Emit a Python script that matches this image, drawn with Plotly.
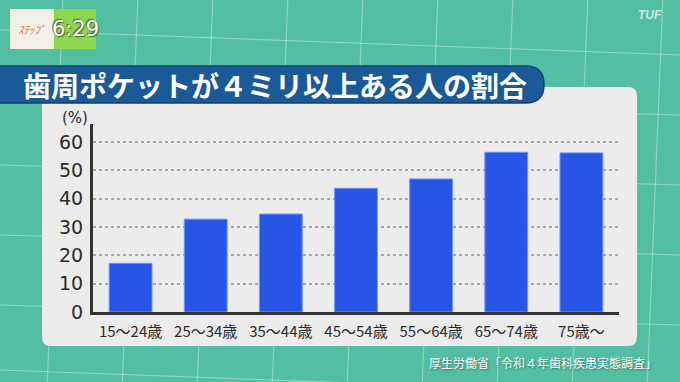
import plotly.graph_objects as go

W, H = 680, 382

categories = ["15～24歳", "25～34歳", "35～44歳", "45～54歳", "55～64歳", "65～74歳", "75歳～"]
values = [17.2, 32.8, 34.6, 43.7, 47.0, 56.4, 56.2]
y_ticks = [0, 10, 20, 30, 40, 50, 60]
title_text = "歯周ポケットが４ミリ以上ある人の割合"
source_text = "厚生労働省「令和４年歯科疾患実態調査」"
unit_text = "(%)"
JP = "Noto Sans CJK JP"


def px(x):
    return x / W


def py(y):
    return 1 - y / H


fig = go.Figure()
fig.add_trace(go.Bar(
    x=categories, y=values,
    marker=dict(color="#2756e6", line=dict(color="#6f93ff", width=1)),
    width=0.57,
    hoverinfo="skip",
))

shapes = []
# decorative background grid lines on teal
for x0 in [-20, 55, 130, 205, 280, 355, 430, 505, 580, 655]:
    shapes.append(dict(type="line", xref="paper", yref="paper",
                       x0=px(x0 + 8), y0=py(-5), x1=px(x0 - 8), y1=py(390),
                       line=dict(color="rgba(255,255,255,0.35)", width=1.2), layer="below"))
for y0, y1 in [(30, 55), (95, 115), (165, 185), (235, 255), (305, 325), (370, 395)]:
    shapes.append(dict(type="line", xref="paper", yref="paper",
                       x0=px(0), y0=py(y0), x1=px(680), y1=py(y1),
                       line=dict(color="rgba(255,255,255,0.35)", width=1.2), layer="below"))


def rounded_rect(x0, y0, x1, y1, r):
    def P(x, y):
        return f"{px(x)},{py(y)}"
    return (f"M {P(x0 + r, y0)} L {P(x1 - r, y0)} Q {P(x1, y0)} {P(x1, y0 + r)} "
            f"L {P(x1, y1 - r)} Q {P(x1, y1)} {P(x1 - r, y1)} L {P(x0 + r, y1)} "
            f"Q {P(x0, y1)} {P(x0, y1 - r)} L {P(x0, y0 + r)} Q {P(x0, y0)} {P(x0 + r, y0)} Z")


def title_bar(x0, y0, x1, y1):
    r = (y1 - y0) / 2
    def P(x, y):
        return f"{px(x)},{py(y)}"
    return (f"M {P(x0, y0)} L {P(x1 - r, y0)} Q {P(x1, y0)} {P(x1, y0 + r)} "
            f"Q {P(x1, y1)} {P(x1 - r, y1)} L {P(x0, y1)} Z")


# white panel
shapes.append(dict(type="path", xref="paper", yref="paper", path=rounded_rect(42, 87, 637, 346, 9),
                   fillcolor="#ececec", line=dict(width=0), layer="below"))
# title bar
shapes.append(dict(type="path", xref="paper", yref="paper", path=title_bar(-2, 66, 544, 103),
                   fillcolor="#1b5a98", line=dict(color="#123f73", width=1.5), layer="below"))
# logo boxes
shapes.append(dict(type="rect", xref="paper", yref="paper", x0=px(10), y0=py(9), x1=px(54), y1=py(49),
                   fillcolor="#f1efe6", line=dict(width=0), layer="below"))
shapes.append(dict(type="rect", xref="paper", yref="paper", x0=px(54), y0=py(9), x1=px(96), y1=py(49),
                   fillcolor="#8dd64e", line=dict(width=0), layer="below"))

annotations = [
    dict(text=title_text, x=px(21), y=py(85), xref="paper", yref="paper", xanchor="left", yanchor="middle",
         showarrow=False, font=dict(family=JP, size=28, color="white", weight="bold")),
    dict(text=unit_text, x=px(75), y=py(118), xref="paper", yref="paper", xanchor="center", yanchor="middle",
         showarrow=False, font=dict(family="DejaVu Sans", size=15, color="#2b2b2b")),
    dict(text=source_text, x=px(659), y=py(362), xref="paper", yref="paper", xanchor="right", yanchor="middle",
         showarrow=False, font=dict(family=JP, size=12, color="white", shadow="1px 1px 2px rgba(0,0,0,0.4)")),
    dict(text="6:29", x=px(75), y=py(29), xref="paper", yref="paper", xanchor="center", yanchor="middle",
         showarrow=False, font=dict(family="DejaVu Sans", size=21, color="white",
                                    shadow="1px 1px 1px #3d6a2a, -1px -1px 1px #3d6a2a")),
    dict(text="<i>ｽﾃｯﾌﾟ</i>", x=px(32), y=py(29), xref="paper", yref="paper", xanchor="center", yanchor="middle",
         showarrow=False, font=dict(family=JP, size=11, color="#e8702a")),
    dict(text="<i>TUF</i>", x=px(650), y=py(15), xref="paper", yref="paper", xanchor="center", yanchor="middle",
         showarrow=False, font=dict(family="Liberation Sans", size=12, color="rgba(255,255,255,0.7)", weight="bold")),
]

fig.update_layout(
    width=W, height=H,
    margin=dict(l=0, r=0, t=0, b=0),
    paper_bgcolor="#52bfa2",
    plot_bgcolor="#dcdcdc",
    showlegend=False,
    bargap=0.43,
    shapes=shapes,
    annotations=annotations,
    xaxis=dict(domain=[px(93), px(619)], automargin=False, showgrid=False, showline=True,
               linecolor="#333333", linewidth=3, ticks="", ticklabelstandoff=4,
               tickfont=dict(family=JP, size=15, color="#2b2b2b"), fixedrange=True),
    yaxis=dict(domain=[py(312), py(124)], automargin=False, range=[0, 66.4], tickvals=y_ticks,
               showgrid=True, gridcolor="#a6a6a6", griddash="dot", gridwidth=1.5,
               showline=True, linecolor="#333333", linewidth=3, zeroline=False, ticks="",
               ticklabelstandoff=3, tickfont=dict(family="DejaVu Sans", size=19, color="#2b2b2b"),
               fixedrange=True),
)

fig.write_html("out.html", config={"displayModeBar": False},
               post_script="document.body.style.margin='0';document.body.style.overflow='hidden';")
